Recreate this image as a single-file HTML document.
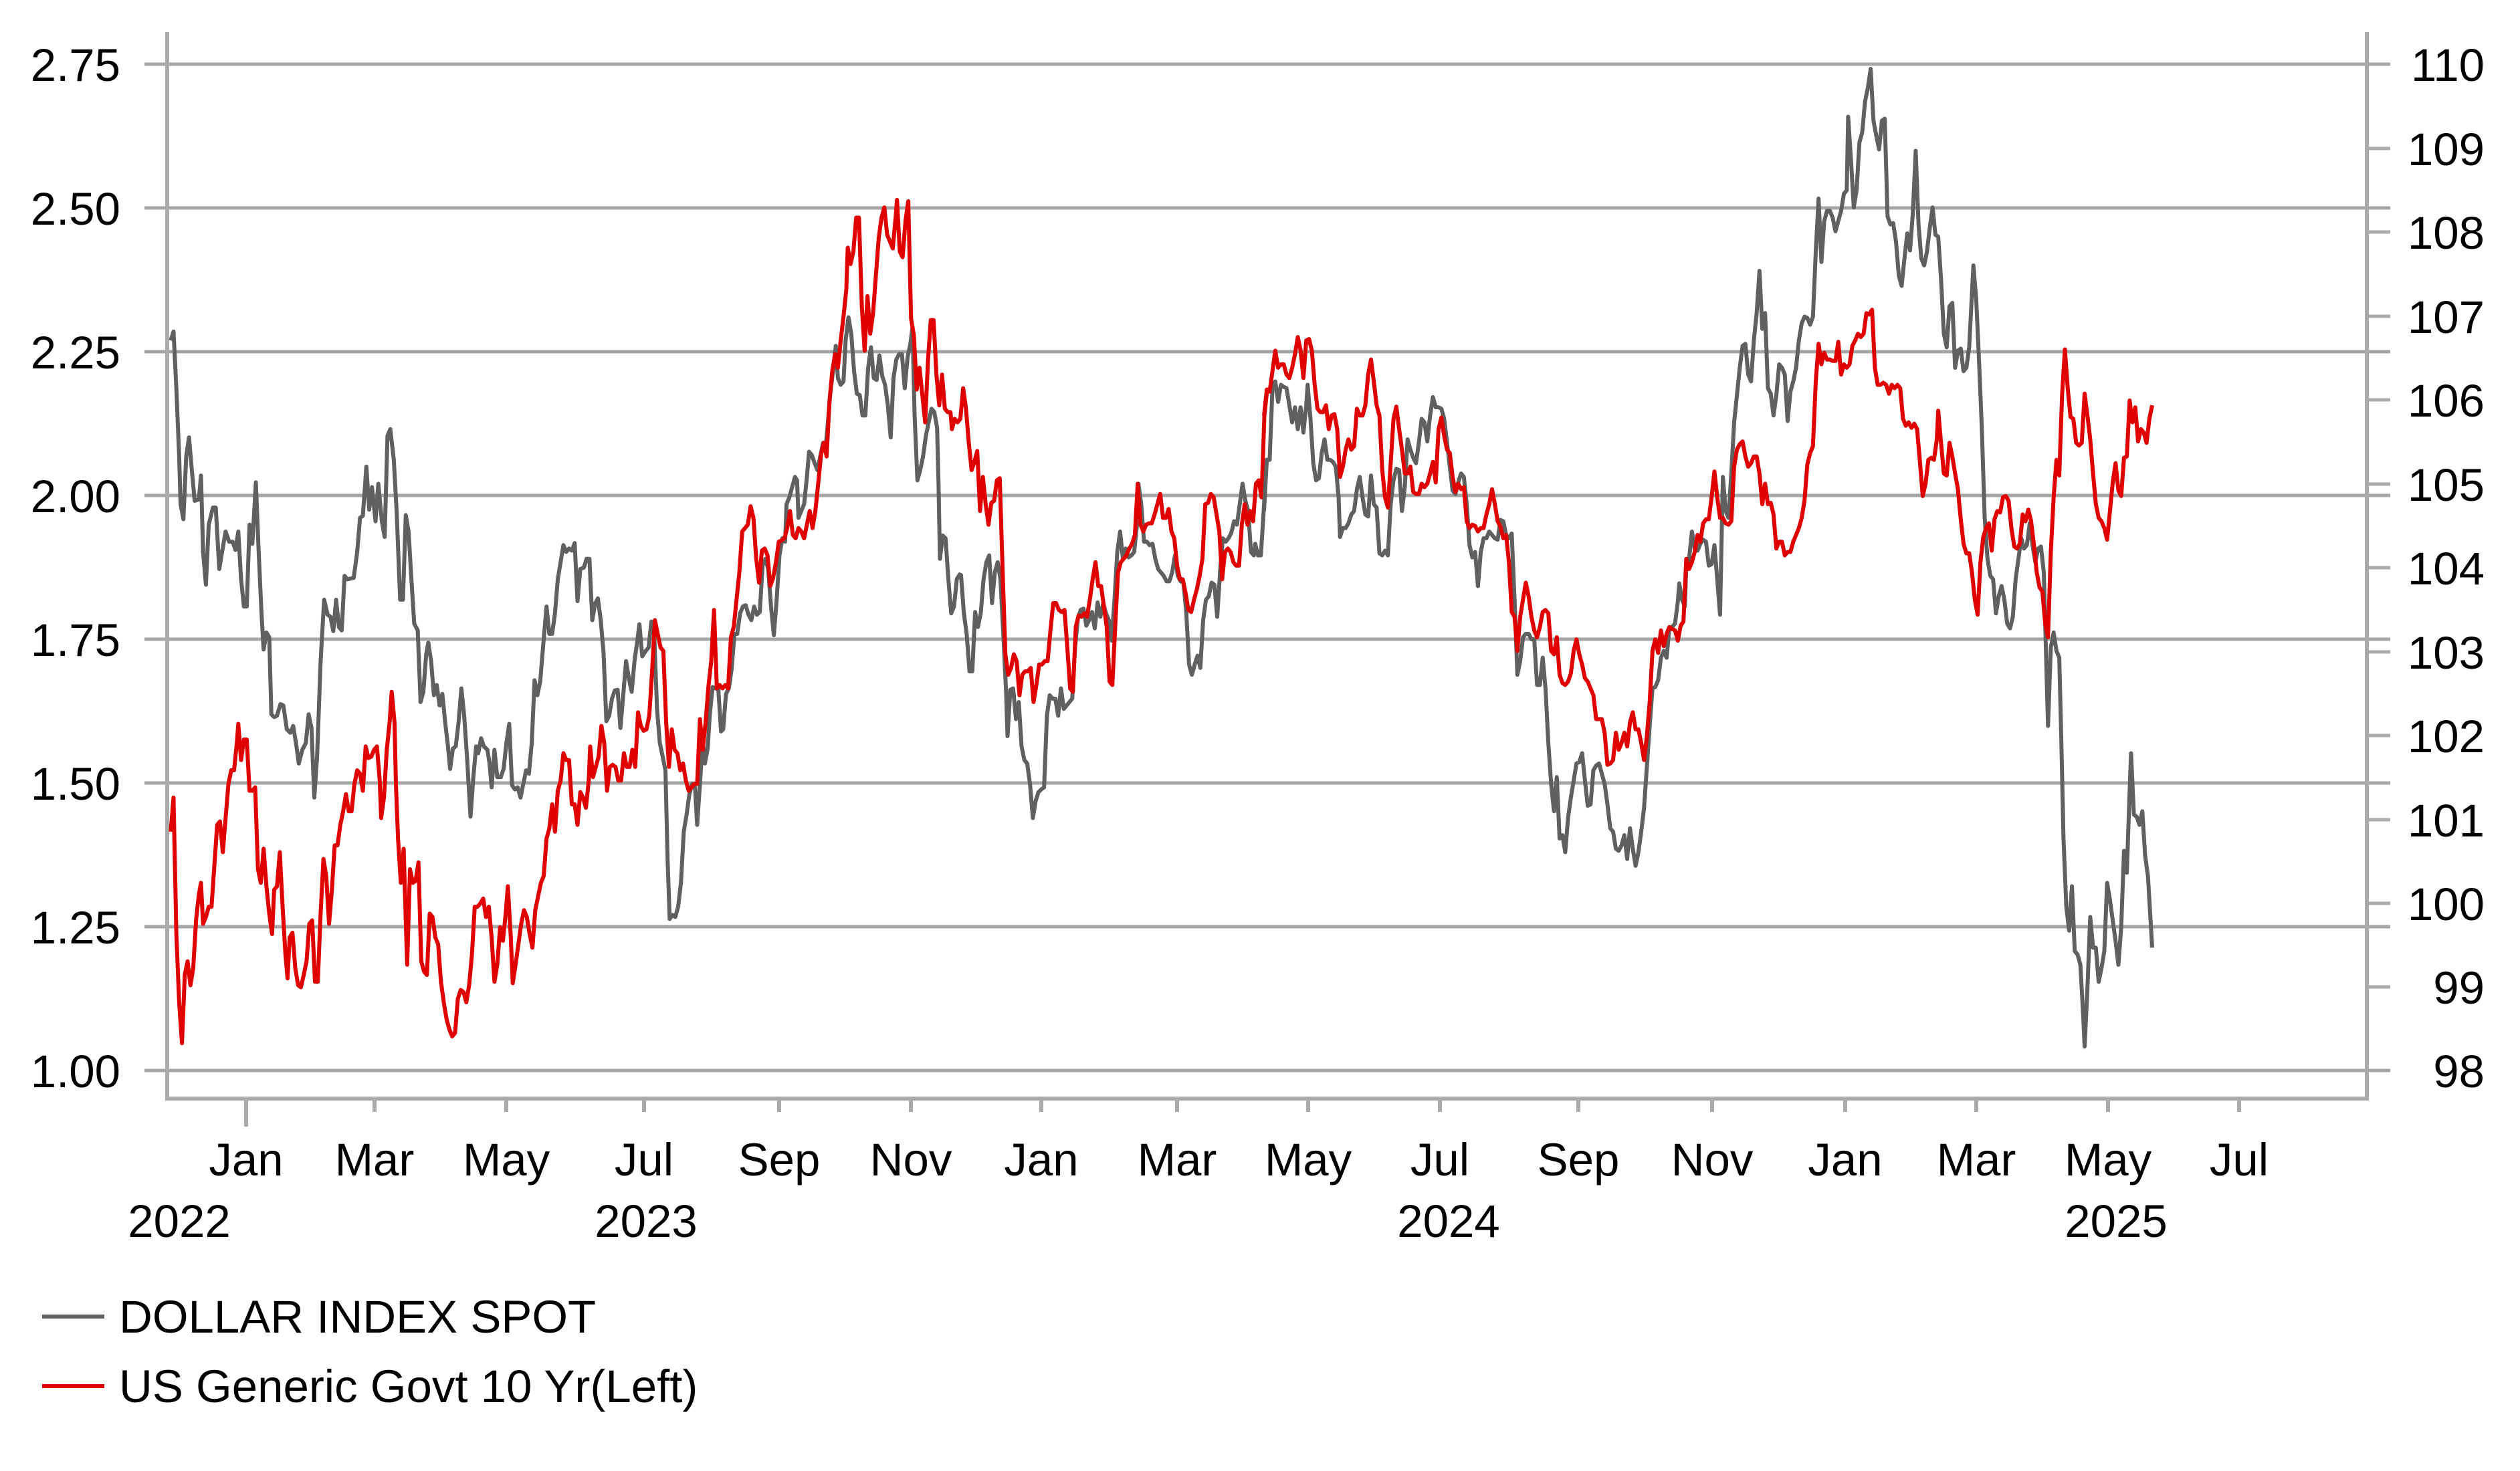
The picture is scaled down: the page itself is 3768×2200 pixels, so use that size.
<!DOCTYPE html>
<html><head><meta charset="utf-8"><style>
html,body{margin:0;padding:0;background:#fff;}
svg{display:block;}
text{font-family:"Liberation Sans",Arial,sans-serif;font-size:69px;fill:#000;}
</style></head><body>
<svg width="3768" height="2200" viewBox="0 0 3768 2200" xmlns="http://www.w3.org/2000/svg">
<rect width="3768" height="2200" fill="#fff"/>
<g stroke="#a6a6a6" stroke-width="5" fill="none">
<line x1="216" y1="96" x2="3574" y2="96"/>
<line x1="216" y1="311" x2="3574" y2="311"/>
<line x1="216" y1="526" x2="3574" y2="526"/>
<line x1="216" y1="741" x2="3574" y2="741"/>
<line x1="216" y1="956" x2="3574" y2="956"/>
<line x1="216" y1="1171" x2="3574" y2="1171"/>
<line x1="216" y1="1386" x2="3574" y2="1386"/>
<line x1="216" y1="1601" x2="3574" y2="1601"/>
</g>
<g stroke="#ababab" stroke-width="5" fill="none">
<line x1="3539" y1="222" x2="3574" y2="222"/>
<line x1="3539" y1="347" x2="3574" y2="347"/>
<line x1="3539" y1="473" x2="3574" y2="473"/>
<line x1="3539" y1="598" x2="3574" y2="598"/>
<line x1="3539" y1="724" x2="3574" y2="724"/>
<line x1="3539" y1="849" x2="3574" y2="849"/>
<line x1="3539" y1="975" x2="3574" y2="975"/>
<line x1="3539" y1="1100" x2="3574" y2="1100"/>
<line x1="3539" y1="1226" x2="3574" y2="1226"/>
<line x1="3539" y1="1351" x2="3574" y2="1351"/>
<line x1="3539" y1="1476" x2="3574" y2="1476"/>
</g>
<g stroke="#ababab" stroke-width="6" fill="none">
<polyline points="250,48 250,1643 3539,1643 3539,48"/>
<line x1="368" y1="1643" x2="368" y2="1685"/>
<line x1="560" y1="1643" x2="560" y2="1663"/>
<line x1="757" y1="1643" x2="757" y2="1663"/>
<line x1="963" y1="1643" x2="963" y2="1663"/>
<line x1="1165" y1="1643" x2="1165" y2="1663"/>
<line x1="1362" y1="1643" x2="1362" y2="1663"/>
<line x1="1557" y1="1643" x2="1557" y2="1663"/>
<line x1="1760" y1="1643" x2="1760" y2="1663"/>
<line x1="1956" y1="1643" x2="1956" y2="1663"/>
<line x1="2153" y1="1643" x2="2153" y2="1663"/>
<line x1="2360" y1="1643" x2="2360" y2="1663"/>
<line x1="2560" y1="1643" x2="2560" y2="1663"/>
<line x1="2759" y1="1643" x2="2759" y2="1663"/>
<line x1="2955" y1="1643" x2="2955" y2="1663"/>
<line x1="3152" y1="1643" x2="3152" y2="1663"/>
<line x1="3348" y1="1643" x2="3348" y2="1663"/>
</g>
<g text-anchor="end">
<text x="180" y="121">2.75</text>
<text x="180" y="336">2.50</text>
<text x="180" y="551">2.25</text>
<text x="180" y="766">2.00</text>
<text x="180" y="981">1.75</text>
<text x="180" y="1196">1.50</text>
<text x="180" y="1411">1.25</text>
<text x="180" y="1626">1.00</text>
<text x="3715" y="121">110</text>
<text x="3715" y="247">109</text>
<text x="3715" y="372">108</text>
<text x="3715" y="498">107</text>
<text x="3715" y="623">106</text>
<text x="3715" y="749">105</text>
<text x="3715" y="874">104</text>
<text x="3715" y="1000">103</text>
<text x="3715" y="1125">102</text>
<text x="3715" y="1251">101</text>
<text x="3715" y="1376">100</text>
<text x="3715" y="1501">99</text>
<text x="3715" y="1626">98</text>
</g>
<g text-anchor="middle">
<text x="368" y="1758">Jan</text>
<text x="560" y="1758">Mar</text>
<text x="757" y="1758">May</text>
<text x="963" y="1758">Jul</text>
<text x="1165" y="1758">Sep</text>
<text x="1362" y="1758">Nov</text>
<text x="1557" y="1758">Jan</text>
<text x="1760" y="1758">Mar</text>
<text x="1956" y="1758">May</text>
<text x="2153" y="1758">Jul</text>
<text x="2360" y="1758">Sep</text>
<text x="2560" y="1758">Nov</text>
<text x="2759" y="1758">Jan</text>
<text x="2955" y="1758">Mar</text>
<text x="3152" y="1758">May</text>
<text x="3348" y="1758">Jul</text>
<text x="268" y="1850">2022</text>
<text x="966" y="1850">2023</text>
<text x="2166" y="1850">2024</text>
<text x="3164" y="1850">2025</text>
</g>
<line x1="63" y1="1969" x2="156" y2="1969" stroke="#606060" stroke-width="6"/>
<line x1="63" y1="2073" x2="156" y2="2073" stroke="#e00000" stroke-width="6"/>
<text x="178" y="1993">DOLLAR INDEX SPOT</text>
<text x="178" y="2097">US Generic Govt 10 Yr(Left)</text>

<g transform="translate(250,50) scale(1.0523,1.0204)" fill="none" stroke-width="6" stroke-linejoin="round">
<polyline vector-effect="non-scaling-stroke" stroke="#606060" points="5,450 9,437 13,520 17,620 19,690 23,712 27,620 31,592 35,640 39,685 45,683 48,648 51,760 55,808 59,720 65,695 69,695 74,785 78,760 83,730 88,745 93,745 97,757 101,730 105,800 109,840 113,840 117,720 121,748 126,658 130,760 134,850 137,903 141,878 145,885 148,998 152,1002 156,1000 161,983 165,985 170,1020 175,1025 179,1015 183,1040 187,1070 192,1050 197,1040 201,998 205,1018 209,1120 213,1060 218,920 223,830 228,852 232,855 236,876 240,830 244,870 248,875 252,795 256,800 265,798 270,760 274,710 278,707 283,635 287,698 291,665 296,715 300,660 305,715 309,738 313,590 317,580 322,625 326,700 331,830 335,830 339,706 343,730 347,800 351,865 356,875 360,980 364,965 368,910 371,893 375,920 379,970 383,955 387,985 391,968 395,1010 399,1045 402,1078 406,1048 410,1045 414,1010 418,960 422,1000 426,1060 431,1148 435,1090 439,1045 442,1055 446,1033 450,1045 455,1050 458,1070 461,1105 465,1050 469,1090 474,1090 478,1078 482,1040 486,1012 490,1102 494,1108 498,1105 502,1120 506,1100 510,1080 514,1085 518,1040 522,948 526,970 530,950 534,900 539,840 543,880 547,880 551,850 555,800 559,775 563,750 567,760 571,755 575,758 579,747 583,832 587,785 592,783 596,770 600,770 604,860 608,836 612,828 616,860 620,907 624,1008 628,1000 632,975 636,963 640,962 644,1018 648,970 652,920 656,945 660,965 664,920 668,890 671,866 675,913 680,905 684,900 688,862 692,880 696,990 700,1040 704,1060 708,1080 711,1210 714,1298 718,1292 722,1295 726,1280 730,1245 734,1170 738,1145 742,1115 746,1100 750,1105 753,1160 757,1100 761,1035 764,1070 768,1048 771,998 775,958 779,960 783,960 787,1023 790,1020 794,968 798,960 802,932 806,880 810,880 814,850 818,840 822,838 826,852 830,860 834,840 838,852 842,848 846,780 850,770 854,785 858,840 862,882 866,830 870,765 874,740 878,745 880,690 884,680 888,665 892,650 895,655 897,710 901,700 905,690 909,650 912,613 916,618 920,630 924,640 928,620 932,600 936,602 938,580 942,530 946,495 950,458 953,505 957,515 961,510 964,450 968,416 972,440 976,495 980,528 984,530 988,560 992,560 996,490 1000,460 1004,505 1008,508 1012,472 1016,502 1020,515 1024,545 1028,592 1032,505 1036,478 1040,470 1044,470 1048,520 1052,475 1056,455 1059,430 1062,560 1066,655 1070,640 1074,620 1078,590 1082,570 1086,550 1090,555 1094,578 1096,660 1098,770 1102,736 1106,740 1110,800 1114,850 1118,840 1122,800 1126,793 1128,794 1132,850 1136,880 1140,935 1144,935 1148,848 1152,870 1156,850 1160,800 1164,775 1168,765 1172,835 1176,790 1180,775 1184,800 1188,880 1192,965 1194,1030 1198,962 1202,960 1206,1005 1210,980 1214,1045 1218,1065 1222,1070 1226,1100 1230,1150 1234,1125 1238,1112 1242,1108 1246,1105 1250,1000 1254,970 1258,975 1262,975 1266,1000 1270,960 1274,990 1278,985 1282,980 1286,975 1290,900 1294,858 1298,845 1302,843 1306,868 1310,860 1314,848 1318,872 1322,834 1326,855 1330,835 1334,850 1338,860 1342,890 1346,830 1350,760 1354,730 1358,770 1362,755 1366,768 1370,765 1374,760 1378,720 1380,660 1384,690 1388,745 1392,745 1396,750 1400,748 1404,770 1408,785 1412,790 1416,795 1420,803 1424,803 1428,790 1432,765 1436,795 1440,803 1444,805 1448,848 1452,925 1456,940 1460,925 1464,912 1468,930 1472,860 1476,830 1480,825 1484,805 1488,808 1492,855 1496,790 1500,740 1504,745 1508,740 1512,732 1516,715 1520,720 1524,690 1528,660 1532,685 1536,700 1540,760 1544,765 1546,748 1550,765 1554,765 1558,700 1562,625 1566,625"/>
<polyline vector-effect="non-scaling-stroke" stroke="#e00000" points="5,1170 9,1120 13,1320 17,1420 21,1480 25,1380 29,1360 33,1395 37,1370 41,1300 45,1262 48,1245 51,1305 55,1295 59,1280 63,1280 67,1220 71,1160 75,1155 79,1200 83,1150 87,1100 91,1080 95,1080 99,1040 101,1012 105,1065 109,1035 113,1035 117,1110 121,1110 125,1105 129,1225 133,1245 137,1195 141,1250 145,1290 149,1320 152,1255 156,1250 160,1200 164,1280 168,1350 171,1385 174,1325 178,1318 182,1370 186,1395 190,1398 194,1380 198,1360 202,1305 206,1300 210,1390 214,1390 218,1290 222,1210 226,1235 230,1305 234,1255 238,1190 242,1190 246,1160 250,1140 254,1115 258,1140 262,1140 266,1100 270,1080 274,1085 278,1110 282,1045 286,1062 290,1060 294,1050 298,1045 302,1095 304,1150 308,1120 312,1050 316,1010 319,965 323,1010 325,1100 328,1180 332,1245 336,1195 339,1300 341,1365 345,1225 349,1245 353,1242 357,1215 361,1360 365,1375 369,1380 373,1290 377,1295 381,1325 385,1335 389,1390 393,1420 397,1445 401,1460 405,1470 409,1465 413,1415 417,1402 421,1405 425,1420 429,1395 433,1350 437,1280 441,1280 445,1275 449,1268 453,1295 457,1280 461,1325 465,1390 469,1365 473,1310 477,1330 481,1290 484,1250 488,1320 491,1392 495,1365 499,1335 503,1305 507,1285 511,1295 515,1320 519,1340 523,1285 527,1265 531,1245 535,1235 539,1180 543,1165 547,1130 551,1170 555,1110 559,1095 563,1055 567,1065 571,1065 575,1130 579,1130 583,1160 587,1112 591,1120 595,1135 599,1095 601,1045 605,1090 609,1075 613,1060 617,1015 621,1040 625,1110 629,1075 633,1072 637,1075 641,1095 645,1095 649,1055 653,1075 657,1075 661,1050 665,1075 669,995 673,1015 677,1022 681,1020 685,1000 689,935 693,860 697,880 701,900 705,905 709,1010 713,1075 717,1020 721,1050 725,1055 729,1080 733,1070 737,1095 741,1110 745,1105 749,1100 753,1100 757,1005 761,1050 765,1010 769,958 773,920 777,845 781,960 785,955 789,960 793,955 797,960 801,885 805,870 809,830 813,790 817,730 821,725 825,720 829,693 833,710 837,770 841,805 845,758 849,755 853,765 857,810 861,798 865,775 869,745 873,743 877,740 881,725 885,700 889,735 893,740 897,725 901,730 905,740 909,720 913,700 917,725 921,700 925,660 929,618 933,600 937,620 941,540 945,495 949,470 953,490 957,450 961,415 965,375 967,314 971,338 975,320 979,270 983,270 987,400 991,465 995,385 999,440 1003,410 1007,355 1011,300 1015,270 1019,255 1023,295 1027,305 1031,315 1035,270 1037,244 1041,320 1045,328 1049,275 1053,246 1057,418 1061,443 1065,522 1069,490 1073,530 1077,570 1081,480 1085,420 1089,420 1093,500 1097,545 1101,500 1105,550 1109,555 1113,555 1115,580 1119,565 1123,570 1127,565 1131,520 1135,550 1139,600 1143,640 1147,628 1151,612 1155,700 1159,650 1163,690 1167,720 1171,688 1175,685 1179,655 1183,652 1187,785 1191,910 1195,940 1199,930 1203,910 1207,920 1211,970 1215,940 1219,935 1223,935 1227,930 1231,980 1235,955 1239,925 1243,925 1247,920 1251,920 1255,875 1259,835 1263,835 1267,845 1271,848 1275,845 1279,900 1283,960 1287,965 1291,870 1295,853 1299,855 1303,850 1307,855 1311,830 1315,800 1319,775 1323,810 1327,810 1331,840 1335,870 1339,950 1343,955 1347,870 1351,790 1355,775 1359,770 1363,765 1367,755 1371,748 1375,735 1379,660 1383,720 1387,730 1391,720 1395,718 1399,718 1403,705 1407,690 1411,675 1415,710 1419,710 1423,697 1427,730 1431,740 1435,780 1439,800 1443,800 1447,820 1451,845 1455,848 1459,830 1463,815 1467,795 1471,770 1475,690 1479,688 1483,675 1487,680 1491,705 1495,730 1499,800 1503,760 1507,755 1511,760 1515,775 1519,780 1523,780 1527,720 1531,690 1535,720 1539,700 1543,715 1547,660 1551,655 1555,680 1559,560 1563,522 1567,525"/>
</g>

<g transform="translate(1890,50) scale(1.0523,1.0204)" fill="none" stroke-width="6" stroke-linejoin="round">
<polyline vector-effect="non-scaling-stroke" stroke="#606060" points="0,700 4,625 8,625 12,520 16,510 20,540 24,515 28,518 32,520 36,545 40,570 44,548 48,580 52,548 56,585 60,545 62,515 66,565 70,630 74,655 78,652 82,615 86,595 90,625 94,625 98,628 102,635 106,680 108,738 112,725 116,725 120,718 124,705 128,700 132,668 136,650 140,680 144,705 148,708 152,648 156,690 160,695 164,762 168,765 172,758 176,765 180,690 184,655 188,638 192,640 196,700 200,665 204,595 208,610 212,622 216,630 220,600 224,565 228,570 232,598 236,560 240,533 244,548 248,548 252,550 256,565 260,600 264,635 268,670 272,675 276,658 280,645 284,650 288,690 292,750 296,768 300,760 304,810 308,760 312,740 316,740 320,730 324,735 328,740 332,742 336,713 340,715 344,735 348,740 352,733 356,830 360,940 364,920 368,885 372,880 376,880 380,888 384,888 388,955 392,955 396,915 400,960 404,1040 408,1100 412,1140 416,1090 420,1180 424,1175 428,1200 432,1150 436,1120 440,1095 444,1070 448,1068 452,1055 456,1095 460,1132 464,1130 468,1080 472,1073 476,1070 480,1085 484,1100 488,1130 492,1165 496,1170 500,1195 504,1198 508,1190 512,1175 516,1210 520,1165 524,1195 528,1220 532,1200 536,1170 540,1135 544,1075 548,1015 552,960 556,958 560,948 564,915 568,905 572,915 576,872 580,870 584,865 588,833 590,806 594,830 598,840 600,782 604,770 608,730 612,755 616,758 620,748 624,742 628,745 632,780 636,778 640,750 644,800 648,852 652,650 656,700 660,710 664,645 668,570 672,530 676,490 680,458 684,455 688,500 692,510 696,450 700,410 704,348 708,433 712,410 716,520 720,528 724,560 728,530 732,485 736,490 740,500 744,568 748,525 752,510 756,490 760,450 764,425 768,415 772,417 776,427 780,415 784,320 788,242 792,335 796,275 800,260 804,260 808,270 812,290 816,275 820,260 824,235 828,230 830,122 834,185 838,255 842,230 846,160 850,145 854,100 858,80 862,52 866,128 870,150 874,170 878,128 882,125 886,268 890,280 894,278 898,305 902,355 906,370 910,330 914,293 918,318 922,262 926,172 930,280 934,330 938,340 942,320 946,285 950,255 954,295 958,298 962,360 966,440 970,460 974,400 978,395 982,490 986,465 990,462 994,495 998,490 1002,460 1006,380 1008,340 1012,390 1016,480 1020,580 1024,710 1028,770 1032,795 1036,800 1040,850 1044,825 1048,810 1052,830 1056,865 1060,872 1064,855 1068,800 1072,770 1076,740 1080,755 1084,750 1088,718 1092,750 1096,775 1100,755 1104,752 1108,790 1112,940 1114,1015 1118,900 1122,878 1126,905 1130,915 1133,1040 1136,1180 1140,1280 1144,1315 1148,1250 1152,1345 1156,1350 1160,1365 1164,1440 1166,1485 1170,1400 1174,1295 1178,1340 1182,1340 1186,1390 1190,1370 1194,1345 1198,1245 1202,1270 1206,1300 1210,1330 1214,1365 1218,1310 1222,1198 1226,1230 1230,1110 1232,1055 1236,1145 1240,1148 1244,1160 1248,1140 1252,1205 1256,1235 1258,1270 1262,1340"/>
<polyline vector-effect="non-scaling-stroke" stroke="#e00000" points="0,560 4,522 8,525 12,495 16,465 20,490 24,485 28,485 32,500 36,505 40,490 44,470 48,445 52,465 56,505 60,450 64,448 68,465 72,515 76,550 80,555 84,555 88,545 92,580 96,560 100,558 104,580 108,650 112,635 116,610 120,595 124,610 128,605 132,550 136,560 140,560 144,545 148,500 152,478 156,510 160,545 164,560 168,640 172,680 176,695 180,630 184,565 188,547 192,580 196,610 200,645 204,645 208,635 212,672 216,675 220,675 224,660 228,665 232,660 236,645 240,628 244,658 248,580 252,563 256,590 260,610 264,615 268,650 272,672 276,660 280,668 284,665 288,715 292,725 296,720 300,722 304,730 308,725 312,725 316,705 320,690 324,668 328,690 332,715 336,723 340,740 344,735 348,775 352,848 356,855 360,905 364,855 368,830 372,805 376,825 380,855 384,875 388,885 392,870 396,848 400,845 404,850 408,905 412,910 416,885 420,940 424,952 428,955 432,950 436,938 440,905 444,888 448,910 452,925 456,945 460,950 464,960 468,970 472,1005 476,1005 480,1005 484,1025 488,1072 492,1070 496,1065 500,1025 504,1050 508,1040 512,1025 516,1045 520,1010 524,995 528,1020 532,1020 536,1040 540,1065 544,1030 548,980 552,905 556,888 560,908 564,875 568,898 572,880 576,870 580,873 584,875 588,890 592,868 596,862 600,770 604,785 608,775 612,760 616,735 620,745 624,718 628,712 632,712 636,680 640,642 644,680 648,710 652,710 656,718 660,720 664,715 668,635 672,610 676,602 680,598 684,620 688,635 692,630 696,620 700,620 704,645 708,690 712,660 716,690 720,688 724,705 728,755 732,745 736,745 740,765 744,760 748,760 752,745 756,735 760,725 764,710 768,685 772,632 776,615 780,605 784,510 788,455 792,485 796,468 800,478 804,478 808,480 812,480 816,452 820,500 824,485 828,490 832,485 836,458 840,450 844,440 848,445 852,440 856,410 860,412 864,405 868,490 872,515 876,515 880,512 884,515 888,528 892,515 896,520 900,515 904,520 908,565 912,575 916,570 920,578 924,572 928,580 932,628 936,678 940,660 944,625 948,622 952,625 956,595 958,553 962,600 966,645 970,648 974,600 978,620 982,645 986,668 990,712 994,748 998,762 1002,762 1006,790 1010,830 1014,852 1018,775 1022,738 1026,725 1030,718 1034,758 1038,712 1042,700 1046,702 1050,680 1054,678 1058,685 1062,725 1066,752 1070,755 1074,748 1078,705 1082,715 1086,698 1090,715 1094,750 1098,790 1102,812 1106,818 1110,865 1114,885 1118,760 1122,680 1126,625 1130,648 1132,588 1134,530 1138,463 1142,520 1146,562 1150,565 1154,600 1158,604 1162,600 1166,528 1170,560 1174,595 1178,645 1182,690 1186,710 1190,715 1194,725 1198,742 1202,700 1206,658 1210,630 1214,670 1218,678 1222,622 1226,620 1230,538 1234,570 1238,548 1242,598 1246,580 1250,585 1254,600 1258,565 1262,545"/>
</g>
</svg>
</body></html>
